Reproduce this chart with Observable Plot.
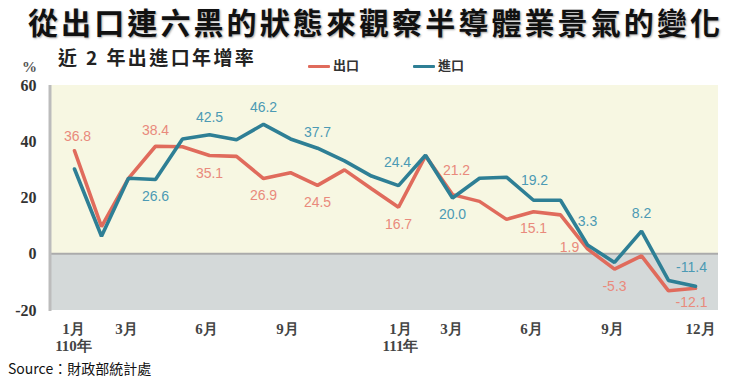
<!DOCTYPE html>
<html><head><meta charset="utf-8">
<script src="https://cdn.jsdelivr.net/npm/d3@7"></script>
<script src="https://cdn.jsdelivr.net/npm/@observablehq/plot@0.6"></script>
<style>
body{margin:0;background:#fff;}
#wrap{position:relative;width:738px;height:380px;overflow:hidden;background:#fff;}
#chart{position:absolute;left:0;top:0;}
.t{position:absolute;white-space:nowrap;}
#title{left:28px;top:5px;font:700 30px "Noto Sans CJK TC";line-height:32px;letter-spacing:3.1px;color:#111;text-shadow:1px 1px 2px rgba(0,0,0,0.35);}
#sub{left:58px;top:47px;font:700 19px "Noto Sans CJK TC";line-height:20px;letter-spacing:2.4px;color:#222;}
#pct{left:22px;top:59px;font:700 15px "Liberation Serif";color:#555;line-height:16px;}
.leg{top:57px;font:700 13px "Noto Sans CJK TC";color:#333;line-height:16px;}
.leg i{display:inline-block;width:22px;height:3px;vertical-align:middle;margin-right:3px;border-radius:1px;}
#src{left:8px;top:358px;font:400 14px "Noto Sans CJK TC";color:#111;line-height:20px;}
</style></head>
<body>
<div id="wrap">
<div id="chart"></div>
<div class="t" id="title">從出口連六黑的狀態來觀察半導體業景氣的變化</div>
<div class="t" id="sub">近 2 年出進口年增率</div>
<div class="t" id="pct">%</div>
<div class="t leg" style="left:308px"><i style="background:#e06b5c"></i>出口</div>
<div class="t leg" style="left:413px"><i style="background:#2e7f95"></i>進口</div>
<div class="t" id="src">Source：財政部統計處</div>
</div>
<script>
const months = ["110-01","110-02","110-03","110-04","110-05","110-06","110-07","110-08","110-09","110-10","110-11","110-12",
                "111-01","111-02","111-03","111-04","111-05","111-06","111-07","111-08","111-09","111-10","111-11","111-12"];
const exportsYoY = [36.8, 9.8, 27.0, 38.4, 38.2, 35.1, 34.8, 26.9, 29.0, 24.5, 30.0, 23.3,
                    16.7, 35.0, 21.2, 18.8, 12.4, 15.1, 14.0, 1.9, -5.3, -0.6, -13.0, -12.1];
const importsYoY = [30.3, 6.4, 27.0, 26.6, 41.0, 42.5, 40.7, 46.2, 41.0, 37.7, 33.2, 27.8,
                    24.4, 35.2, 20.0, 27.0, 27.4, 19.2, 19.2, 3.3, -2.9, 8.2, -9.3, -11.4];
const yTicks = [60, 40, 20, 0, -20];
const xTickMonths = ["110-01","110-03","110-06","110-09","111-01","111-03","111-06","111-09","111-12"];
const xTickLabels = ["1月\n110年","3月","6月","9月","1月\n111年","3月","6月","9月","12月"];
const exportLabelMonths = ["110-01","110-04","110-06","110-08","110-10","111-01","111-03","111-06","111-08","111-09","111-12"];
const importLabelMonths = ["110-04","110-06","110-08","110-10","111-01","111-03","111-06","111-08","111-10","111-12"];
// label placement (layout only, pixel offsets)
const exportLabelOffsets = [[3,-14],[0,-16],[0,18],[0,17],[0,17],[0,17],[4,-24],[0,17],[-18,-1],[0,17],[-4,14]];
const importLabelOffsets = [[0,17],[0,-17],[0,-17],[0,-16],[-1,-23],[0,17],[1,-20],[0,-23],[0,-18],[-4,-19]];
const xTickShift = [-1,-2,-3,-3,2,-1,-2,-2,5];

const RED = "#e06b5c", BLUE = "#2e7f95", RED_T = "#e98a7c", BLUE_T = "#4c9ab4";
const exp = months.map((m, i) => ({m, v: exportsYoY[i]}));
const imp = months.map((m, i) => ({m, v: importsYoY[i]}));

const bands = (index, scales, values, dim) => {
  const g = d3.create("svg:g");
  const x0 = dim.marginLeft, x1 = dim.width - dim.marginRight;
  const top = scales.y(yTicks[0]), zero = scales.y(0), bot = scales.y(yTicks[yTicks.length - 1]);
  g.append("rect").attr("x", x0).attr("width", x1 - x0).attr("y", top).attr("height", zero - top).attr("fill", "#f7f7e2");
  g.append("rect").attr("x", x0).attr("width", x1 - x0).attr("y", zero).attr("height", bot - zero).attr("fill", "#d4d9d9");
  g.append("line").attr("x1", x0).attr("x2", x1).attr("y1", zero).attr("y2", zero).attr("stroke", "#ababab").attr("stroke-width", 2);
  g.append("line").attr("x1", x0).attr("x2", x0).attr("y1", top).attr("y2", bot + 1).attr("stroke", "#bcbcbc").attr("stroke-width", 3);
  return g.node();
};

const labelMarks = (data, labelMonths, offsets, color) => labelMonths.map((mm, k) => {
  const d = data.find(e => e.m === mm);
  return Plot.text([d], {x: "m", y: "v", text: e => e.v.toFixed(1), dx: offsets[k][0], dy: offsets[k][1],
    fill: color, fontSize: 14, fontFamily: "Liberation Sans, Arial, sans-serif", lineAnchor: "middle"});
});

const xTickMarks = xTickMonths.map((mm, k) => Plot.text([mm], {x: d => d, text: () => xTickLabels[k],
  frameAnchor: "bottom", lineAnchor: "top", dy: 12, dx: xTickShift[k],
  lineHeight: 1.1, fontSize: 15, fontWeight: "bold", fontFamily: "Liberation Serif, serif", fill: "#444"}));

const chart = Plot.plot({
  width: 738, height: 380,
  marginTop: 85, marginBottom: 70, marginLeft: 50, marginRight: 20,
  style: {background: "transparent", overflow: "visible"},
  x: {type: "point", domain: months, padding: 0.5, axis: null},
  y: {domain: [-20, 60], axis: null},
  marks: [
    bands,
    Plot.line(exp, {x: "m", y: "v", stroke: RED, strokeWidth: 3.6, strokeLinejoin: "miter"}),
    Plot.line(imp, {x: "m", y: "v", stroke: BLUE, strokeWidth: 3.6, strokeLinejoin: "miter"}),
    ...labelMarks(exp, exportLabelMonths, exportLabelOffsets, RED_T),
    ...labelMarks(imp, importLabelMonths, importLabelOffsets, BLUE_T),
    Plot.text(yTicks, {y: d => d, text: d => String(d), frameAnchor: "left", dx: -14, textAnchor: "end",
      fontSize: 16, fontWeight: "bold", fontFamily: "Liberation Serif, serif", fill: "#333"}),
    ...xTickMarks
  ]
});
document.getElementById("chart").appendChild(chart);
</script>
</body></html>
